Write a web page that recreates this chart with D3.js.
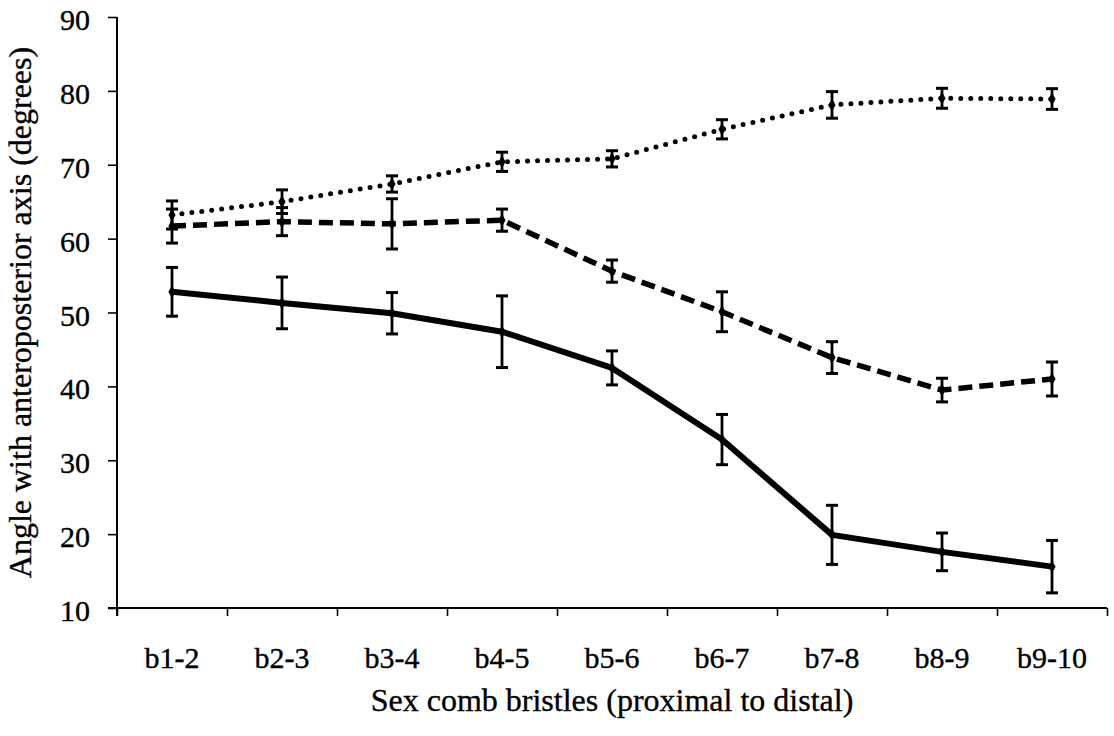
<!DOCTYPE html>
<html>
<head>
<meta charset="utf-8">
<script src="https://cdn.jsdelivr.net/npm/d3@7"></script>
<style>
  html, body { margin: 0; padding: 0; background: #fff; }
  svg { display: block; }
  text { font-family: "Liberation Serif", "Times New Roman", serif; fill: #000; stroke: #000; stroke-width: 0.35px; }
</style>
</head>
<body>
<svg id="chart" width="1114" height="736"></svg>
<script>
// Bristle pairs along the sex comb, proximal to distal
const categories = ["b1-2", "b2-3", "b3-4", "b4-5", "b5-6", "b6-7", "b7-8", "b8-9", "b9-10"];

// Mean angle (degrees) and error for each group
const solidMean  = [52.8, 51.3, 49.9, 47.4, 42.5, 32.8, 19.9, 17.6, 15.6];
const solidErr   = [3.3, 3.5, 2.8, 4.85, 2.3, 3.4, 4.0, 2.55, 3.55];
const dashedMean = [61.7, 62.3, 62.0, 62.5, 55.6, 50.1, 43.9, 39.5, 41.0];
const dashedErr  = [2.3, 1.9, 3.4, 1.5, 1.5, 2.7, 2.15, 1.6, 2.3];
const dottedMean = [63.2, 65.0, 67.4, 70.4, 70.8, 74.8, 78.1, 79.0, 78.9];
const dottedErr  = [1.9, 1.6, 1.1, 1.3, 1.1, 1.3, 1.8, 1.35, 1.4];

const yTicks = [10, 20, 30, 40, 50, 60, 70, 80, 90];

(function draw() {
  const svg = d3.select("#chart");
  const plotLeft = 117, plotRight = 1107, plotTop = 17, plotBottom = 608;

  const x = d3.scaleBand().domain(categories).range([plotLeft, plotRight]).padding(0);
  const xEdges = d3.scaleLinear().domain([0, categories.length]).range([plotLeft, plotRight]);
  const y = d3.scaleLinear().domain([10, 90]).range([plotBottom, plotTop]);

  // Y axis
  const yAxis = svg.append("g")
    .attr("transform", `translate(${plotLeft},0)`)
    .call(d3.axisLeft(y).tickValues(yTicks).tickSize(9).tickFormat(""));
  yAxis.select(".domain").attr("stroke", "#000").attr("stroke-width", 2).attr("d", `M0,${plotTop}V${plotBottom + 8}`);
  yAxis.selectAll(".tick line").attr("stroke", "#000").attr("stroke-width", 1.6);

  svg.append("g").selectAll("text")
    .data(yTicks)
    .join("text")
    .attr("x", 90)
    .attr("y", d => y(d) + 13)
    .attr("text-anchor", "end")
    .attr("font-size", 30)
    .text(d => d);

  // X axis: ticks sit on the boundaries between categories
  const xAxis = svg.append("g")
    .attr("transform", `translate(0,${plotBottom})`)
    .call(d3.axisBottom(xEdges).tickValues(d3.range(0, categories.length + 1)).tickSize(8).tickFormat(""));
  xAxis.select(".domain").attr("stroke", "#000").attr("stroke-width", 2).attr("d", `M${plotLeft - 9},0H${plotRight}`);
  xAxis.selectAll(".tick line").attr("stroke", "#000").attr("stroke-width", 1.6);

  // Category labels centred in each band
  const xLab = svg.append("g")
    .attr("transform", `translate(0,${plotBottom})`)
    .call(d3.axisBottom(x).tickSize(0).tickPadding(0));
  xLab.select(".domain").remove();
  xLab.selectAll(".tick text")
    .attr("y", 60)
    .attr("dy", 0)
    .attr("font-size", 30)
    .attr("font-family", "Liberation Serif, Times New Roman, serif")
    .attr("fill", "#000");

  // Axis titles
  svg.append("text")
    .attr("x", (plotLeft + plotRight) / 2)
    .attr("y", 711)
    .attr("text-anchor", "middle")
    .attr("font-size", 32)
    .text("Sex comb bristles (proximal to distal)");

  svg.append("text")
    .attr("transform", `translate(31,${(plotTop + plotBottom) / 2}) rotate(-90)`)
    .attr("text-anchor", "middle")
    .attr("font-size", 32)
    .text("Angle with anteroposterior axis (degrees)");

  // Series
  const series = [
    { mean: dottedMean, err: dottedErr, width: 5, dash: "0,10", cap: "round" },
    { mean: dashedMean, err: dashedErr, width: 5.5, dash: "14,7", cap: "butt" },
    { mean: solidMean,  err: solidErr,  width: 6, dash: null, cap: "butt" }
  ];

  const line = d3.line()
    .x((d, i) => x(categories[i]) + x.bandwidth() / 2)
    .y(d => y(d));

  series.forEach(s => {
    const g = svg.append("g");
    const pts = s.mean.map((m, i) => ({ cx: x(categories[i]) + x.bandwidth() / 2, m, e: s.err[i] }));

    g.append("path")
      .datum(s.mean)
      .attr("d", line)
      .attr("fill", "none")
      .attr("stroke", "#000")
      .attr("stroke-width", s.width)
      .attr("stroke-linecap", s.cap)
      .attr("stroke-linejoin", "round")
      .attr("stroke-dasharray", s.dash);

    // Error bars
    const eb = g.selectAll("g.eb").data(pts).join("g").attr("class", "eb");
    eb.append("line")
      .attr("x1", d => d.cx).attr("x2", d => d.cx)
      .attr("y1", d => y(d.m + d.e)).attr("y2", d => y(d.m - d.e))
      .attr("stroke", "#000").attr("stroke-width", 2.8);
    eb.append("line")
      .attr("x1", d => d.cx - 6).attr("x2", d => d.cx + 6)
      .attr("y1", d => y(d.m + d.e)).attr("y2", d => y(d.m + d.e))
      .attr("stroke", "#000").attr("stroke-width", 3);
    eb.append("line")
      .attr("x1", d => d.cx - 6).attr("x2", d => d.cx + 6)
      .attr("y1", d => y(d.m - d.e)).attr("y2", d => y(d.m - d.e))
      .attr("stroke", "#000").attr("stroke-width", 3);

    // Small diamond markers at the means
    g.selectAll("path.mk").data(pts).join("path")
      .attr("class", "mk")
      .attr("d", d3.symbol(d3.symbolDiamond, 45))
      .attr("transform", d => `translate(${d.cx},${y(d.m)})`)
      .attr("fill", "#000");
  });
})();
</script>
</body>
</html>
